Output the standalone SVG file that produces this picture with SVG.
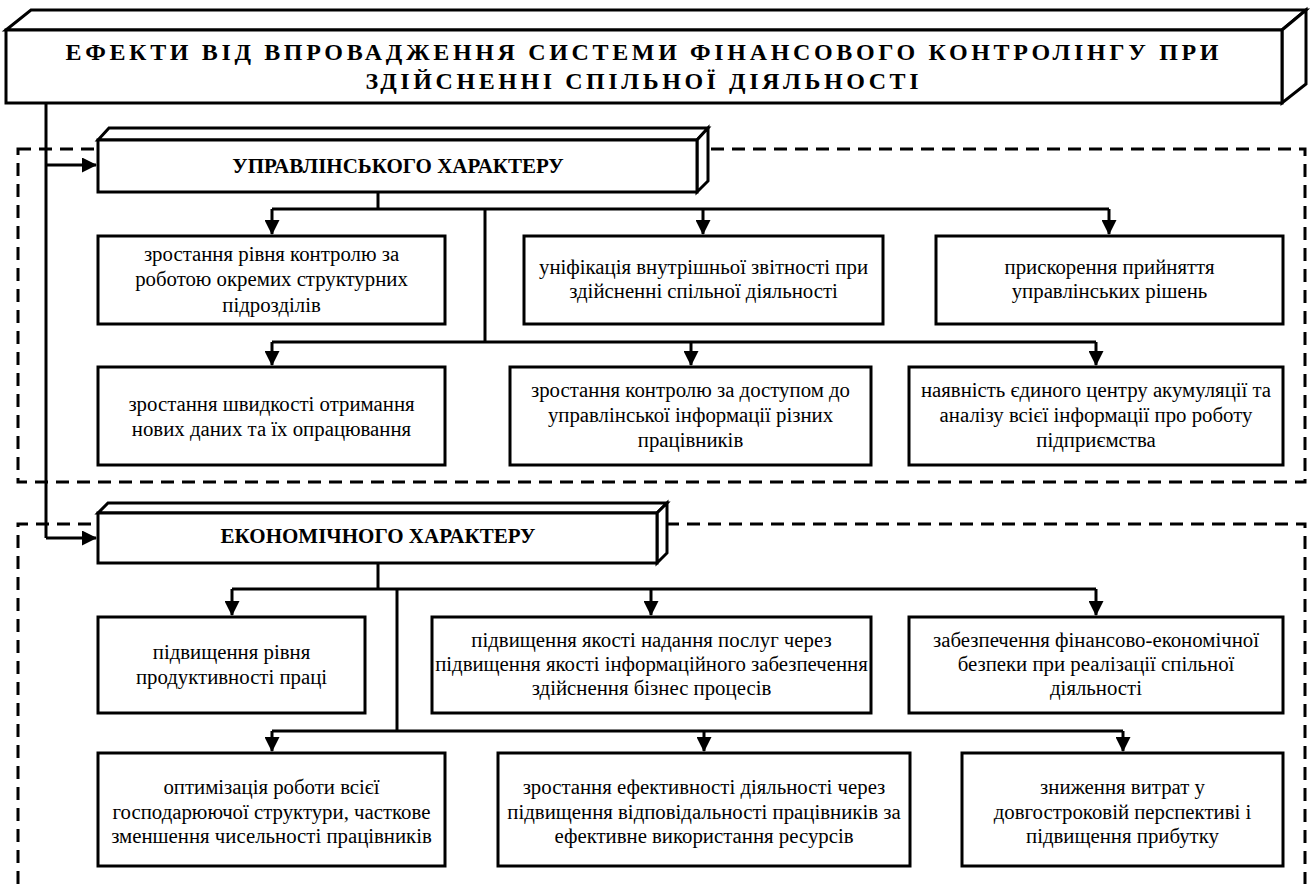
<svg xmlns="http://www.w3.org/2000/svg" width="1311" height="884" viewBox="0 0 1311 884" font-family="'Liberation Serif', 'Times New Roman', serif">
<style>
.box{fill:#fff;stroke:#000;stroke-width:3;stroke-linejoin:miter}
.ln{fill:none;stroke:#000;stroke-width:3}
.dash{fill:none;stroke:#000;stroke-width:3;stroke-dasharray:13 8}
.t{font-size:20.8px;text-anchor:middle;fill:#000}
.h{font-size:24px;font-weight:bold;text-anchor:middle;fill:#000}
.c{font-size:21px;font-weight:bold;text-anchor:middle;fill:#000}
</style>
<defs>
<marker id="ah" markerWidth="15" markerHeight="15" refX="14" refY="7.5" orient="auto" markerUnits="userSpaceOnUse">
<path d="M0,0 L15,7.5 L0,15 z" fill="#000"/>
</marker>
</defs>
<rect width="1311" height="884" fill="#fff"/>

<g id="sections">
<rect class="dash" x="18" y="149" width="1287" height="333"/>
<path class="dash" d="M18,884 V524 H1305 V884"/>
</g>

<g id="connectors">
<path class="ln" d="M46,103 V538" />
<path class="ln" d="M46,165 H96" marker-end="url(#ah)"/>
<path class="ln" d="M46,538 H96" marker-end="url(#ah)"/>
<path class="ln" d="M378,192 V209"/>
<path class="ln" d="M272,209 H1109"/>
<path class="ln" d="M272,209 V234" marker-end="url(#ah)"/>
<path class="ln" d="M703,209 V234" marker-end="url(#ah)"/>
<path class="ln" d="M1109,209 V234" marker-end="url(#ah)"/>
<path class="ln" d="M485,209 V342"/>
<path class="ln" d="M272,342 H1096"/>
<path class="ln" d="M272,342 V365" marker-end="url(#ah)"/>
<path class="ln" d="M691,342 V365" marker-end="url(#ah)"/>
<path class="ln" d="M1096,342 V365" marker-end="url(#ah)"/>
<path class="ln" d="M378,563 V589"/>
<path class="ln" d="M232,589 H1096"/>
<path class="ln" d="M232,589 V615" marker-end="url(#ah)"/>
<path class="ln" d="M651,589 V615" marker-end="url(#ah)"/>
<path class="ln" d="M1096,589 V615" marker-end="url(#ah)"/>
<path class="ln" d="M397,589 V731"/>
<path class="ln" d="M272,731 H1123"/>
<path class="ln" d="M272,731 V751" marker-end="url(#ah)"/>
<path class="ln" d="M704,731 V751" marker-end="url(#ah)"/>
<path class="ln" d="M1123,731 V751" marker-end="url(#ah)"/>
</g>

<g id="main">
<polygon class="box" points="6,30 31,10 1306,10 1282,30"/>
<polygon class="box" points="1282,30 1306,10 1306,84 1282,103"/>
<rect class="box" x="6" y="30" width="1276" height="73"/>
<text class="h" x="642" y="60" textLength="1153" lengthAdjust="spacing">ЕФЕКТИ ВІД ВПРОВАДЖЕННЯ СИСТЕМИ ФІНАНСОВОГО КОНТРОЛІНГУ ПРИ</text>
<text class="h" x="642" y="89" textLength="553" lengthAdjust="spacing">ЗДІЙСНЕННІ СПІЛЬНОЇ ДІЯЛЬНОСТІ</text>
</g>

<g id="upr">
<polygon class="box" points="98,140 109,128 708,128 697,140"/>
<polygon class="box" points="697,140 708,128 708,181 697,192"/>
<rect class="box" x="98" y="140" width="599" height="52"/>
<text class="c" x="398" y="173">УПРАВЛІНСЬКОГО ХАРАКТЕРУ</text>
</g>

<g id="u1">
<rect class="box" x="98" y="236" width="347" height="88"/>
<text class="t" x="271.5" y="261">зростання рівня контролю за</text>
<text class="t" x="271.5" y="286">роботою окремих структурних</text>
<text class="t" x="271.5" y="312">підрозділів</text>
</g>
<g id="u2">
<rect class="box" x="524" y="236" width="359" height="88"/>
<text class="t" x="703.5" y="274">уніфікація внутрішньої звітності при</text>
<text class="t" x="703.5" y="298">здійсненні спільної діяльності</text>
</g>
<g id="u3">
<rect class="box" x="936" y="236" width="347" height="88"/>
<text class="t" x="1109.5" y="274">прискорення прийняття</text>
<text class="t" x="1109.5" y="298">управлінських рішень</text>
</g>
<g id="u4">
<rect class="box" x="98" y="367" width="347" height="98"/>
<text class="t" x="271.5" y="411">зростання швидкості отримання</text>
<text class="t" x="271.5" y="436">нових даних та їх опрацювання</text>
</g>
<g id="u5">
<rect class="box" x="510" y="367" width="361" height="98"/>
<text class="t" x="690.5" y="397">зростання контролю за доступом до</text>
<text class="t" x="690.5" y="422">управлінської інформації різних</text>
<text class="t" x="690.5" y="447">працівників</text>
</g>
<g id="u6">
<rect class="box" x="909" y="367" width="374" height="98"/>
<text class="t" x="1096" y="397">наявність єдиного центру акумуляції та</text>
<text class="t" x="1096" y="422">аналізу всієї інформації про роботу</text>
<text class="t" x="1096" y="447">підприємства</text>
</g>

<g id="eco">
<polygon class="box" points="98,513 108,503 667,503 657,513"/>
<polygon class="box" points="657,513 667,503 667,553 657,563"/>
<rect class="box" x="98" y="513" width="559" height="50"/>
<text class="c" x="378" y="543">ЕКОНОМІЧНОГО ХАРАКТЕРУ</text>
</g>

<g id="e1">
<rect class="box" x="98" y="617" width="267" height="96"/>
<text class="t" x="231.5" y="659">підвищення рівня</text>
<text class="t" x="231.5" y="684">продуктивності праці</text>
</g>
<g id="e2">
<rect class="box" x="432" y="617" width="439" height="96"/>
<text class="t" x="651.5" y="647">підвищення якості надання послуг через</text>
<text class="t" x="651.5" y="671">підвищення якості інформаційного забезпечення</text>
<text class="t" x="651.5" y="695">здійснення бізнес процесів</text>
</g>
<g id="e3">
<rect class="box" x="909" y="617" width="374" height="96"/>
<text class="t" x="1096" y="647">забезпечення фінансово-економічної</text>
<text class="t" x="1096" y="671">безпеки при реалізації спільної</text>
<text class="t" x="1096" y="695">діяльності</text>
</g>
<g id="e4">
<rect class="box" x="98" y="753" width="347" height="113"/>
<text class="t" x="271.5" y="794">оптимізація роботи всієї</text>
<text class="t" x="271.5" y="819">господарюючої структури, часткове</text>
<text class="t" x="271.5" y="843">зменшення чисельності працівників</text>
</g>
<g id="e5">
<rect class="box" x="498" y="753" width="412" height="113"/>
<text class="t" x="704" y="794">зростання ефективності діяльності через</text>
<text class="t" x="704" y="819">підвищення відповідальності працівників за</text>
<text class="t" x="704" y="843">ефективне використання ресурсів</text>
</g>
<g id="e6">
<rect class="box" x="962" y="753" width="321" height="113"/>
<text class="t" x="1122.5" y="794">зниження витрат у</text>
<text class="t" x="1122.5" y="819">довгостроковій перспективі і</text>
<text class="t" x="1122.5" y="843">підвищення прибутку</text>
</g>
</svg>
